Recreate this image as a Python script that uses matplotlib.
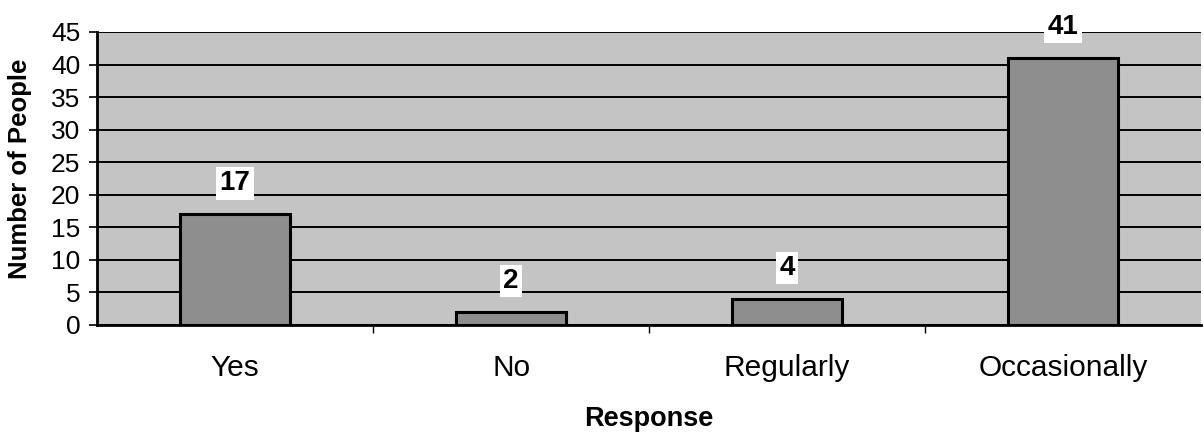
import matplotlib
matplotlib.use("Agg")
import matplotlib.pyplot as plt
import numpy as np

categories = ["Yes", "No", "Regularly", "Occasionally"]
values = [17, 2, 4, 41]
y_ticks = [0, 5, 10, 15, 20, 25, 30, 35, 40, 45]

plt.rcParams['font.family'] = ['Liberation Sans', 'DejaVu Sans']

fig = plt.figure(figsize=(12.04, 4.37), dpi=100)
ax = fig.add_axes([0.0806, 0.2563, 0.917, 0.6705])
ax.set_facecolor('#c4c4c4')

x = np.arange(len(categories))
bars = ax.bar(x, values, width=0.4, color='#8e8e8e', edgecolor='black', linewidth=2.2, zorder=3)

for xi, v in zip(x, values):
    ax.annotate(str(v), (xi, v), xytext=(0, 13), textcoords='offset points',
                ha='center', va='bottom', fontsize=20, fontweight='bold',
                bbox=dict(boxstyle='square,pad=0.12', fc='white', ec='none'),
                zorder=5, annotation_clip=False)

ax.set_xlim(-0.5, len(categories) - 0.5)
ax.set_ylim(0, 45)
ax.set_yticks(y_ticks)
ax.yaxis.grid(True, color='black', linewidth=1.4, zorder=1)
ax.set_axisbelow(True)

ax.set_xticks(x)
ax.set_xticklabels(categories, fontsize=21.5)
ax.set_xticks(np.arange(0.5, len(categories) - 0.5, 1), minor=True)
ax.tick_params(axis='x', which='major', length=0, pad=21)
ax.tick_params(axis='x', which='minor', length=6, width=1, direction='out')
ax.tick_params(axis='y', length=6, width=1.2, labelsize=19, pad=6)

for s in ['top', 'right']:
    ax.spines[s].set_visible(False)
ax.spines['left'].set_linewidth(2)
ax.spines['bottom'].set_linewidth(2)

ax.set_ylabel("Number of People", fontsize=18.5, fontweight='bold')
ax.yaxis.set_label_coords(-0.0589, 0.532)
ax.set_xlabel("Response", fontsize=19.5, fontweight='bold', labelpad=17)

fig.savefig("out.png", dpi=100)
